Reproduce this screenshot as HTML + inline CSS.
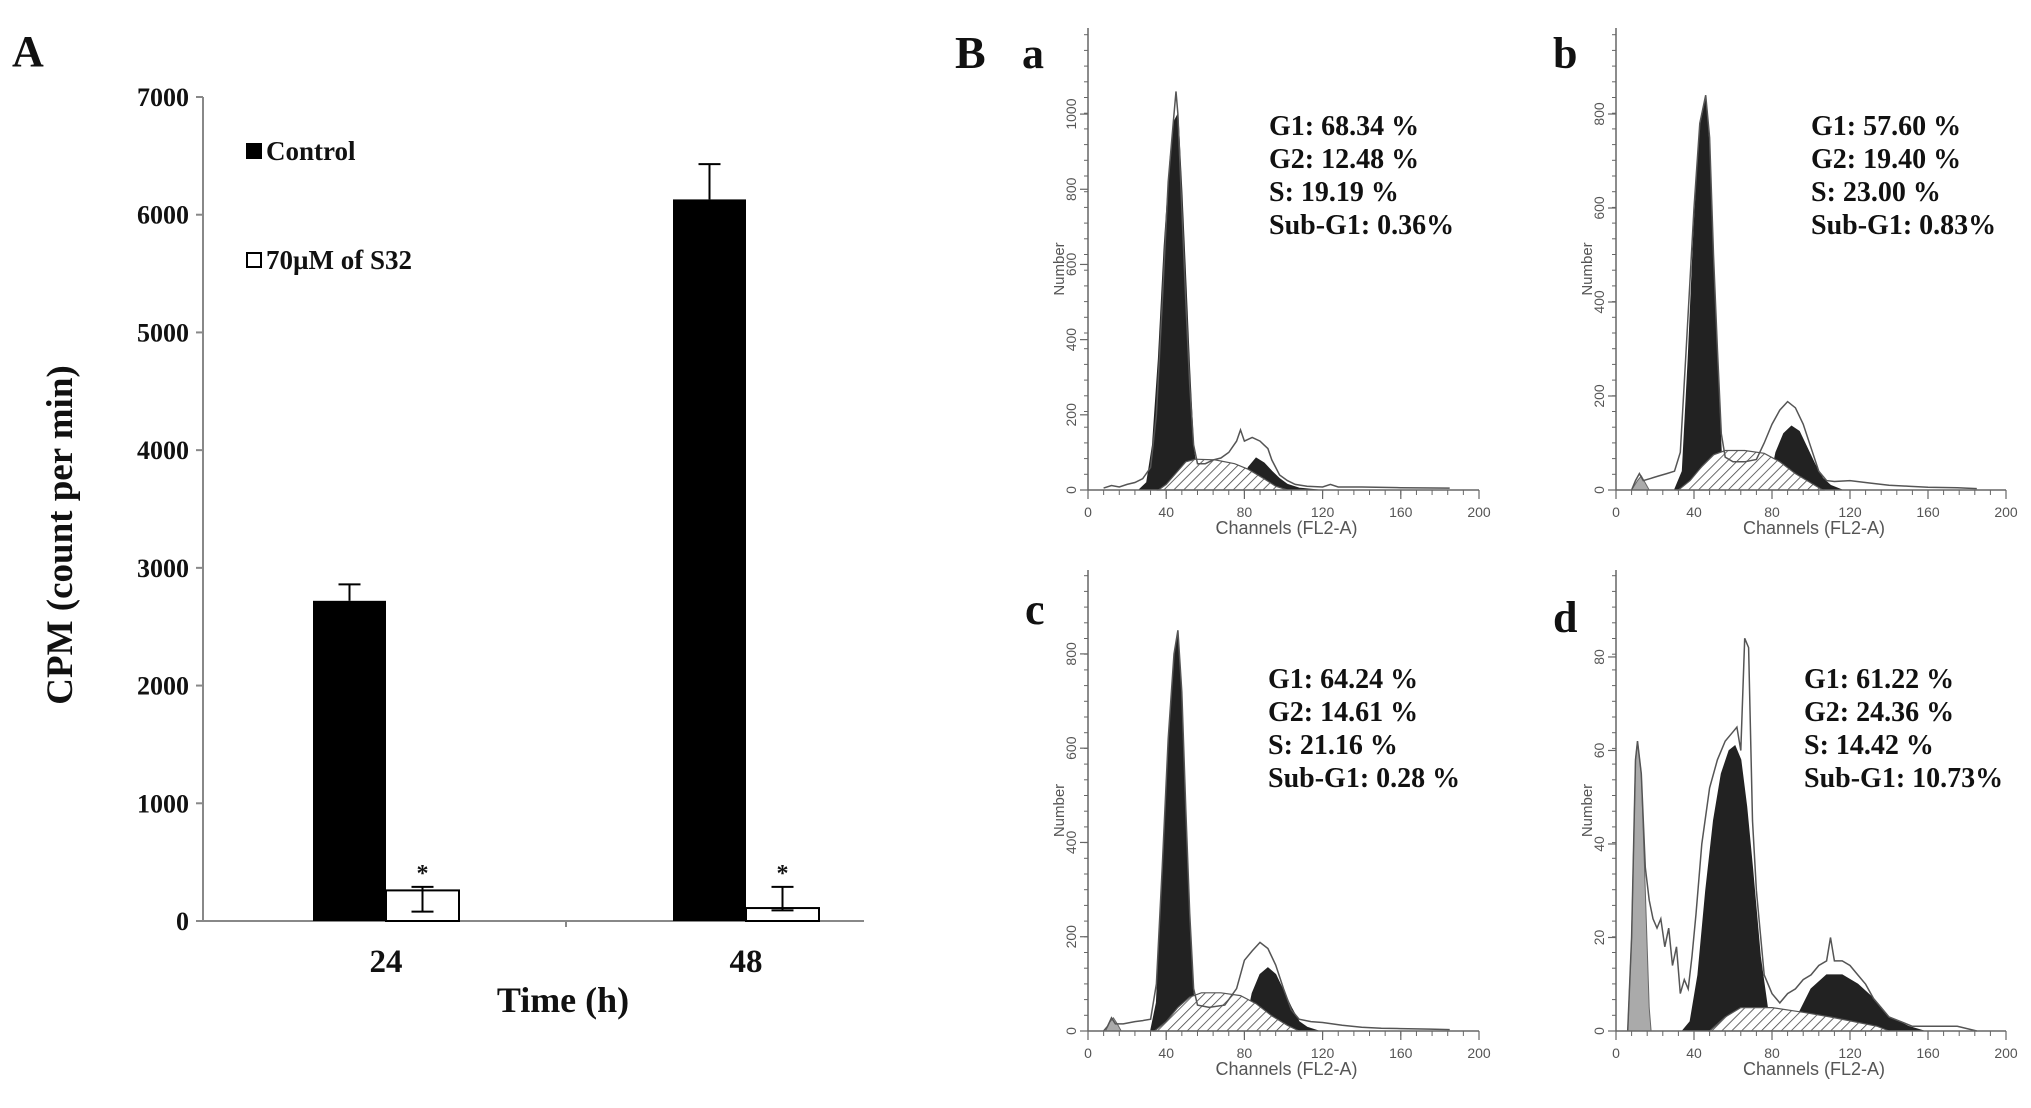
<!DOCTYPE html>
<html><head><meta charset="utf-8"><style>
html,body{margin:0;padding:0;background:#fff;}
svg{display:block;}
.serif{font-family:"Liberation Serif",serif;font-weight:bold;fill:#111;}
.sans{font-family:"Liberation Sans",sans-serif;fill:#555;}
</style></head><body>
<svg id="fig" width="2031" height="1108" viewBox="0 0 2031 1108" xmlns="http://www.w3.org/2000/svg">
<defs>
<pattern id="hatch" width="7" height="7" patternUnits="userSpaceOnUse" patternTransform="rotate(45)">
<rect width="7" height="7" fill="#fff"/><line x1="0" y1="0" x2="0" y2="7" stroke="#444" stroke-width="1.6"/>
</pattern>
</defs>
<g id="panelA"></g>
<g id="panelB"></g>
</svg>
<script>
// ---------- Panel A data ----------
const categories = ["24", "48"];
const controlValues = [2720, 6130];
const controlErrUp = [140, 300];
const treatedValues = [260, 110];
const treatedErrUp = [30, 180];
const treatedErrDown = [180, 20];
const yTicksA = [0, 1000, 2000, 3000, 4000, 5000, 6000, 7000];

// ---------- Panel B data (channel, count) ----------
const aTotal = [[8,5],[12,12],[16,8],[20,15],[24,20],[28,30],[32,60],[35,200],[38,500],[41,820],[44,1000],[45,1060],[46,1000],[48,750],[50,500],[52,280],[54,120],[56,70],[60,70],[64,80],[68,85],[72,100],[76,130],[78,160],[80,130],[84,140],[88,130],[90,120],[92,110],[94,80],[98,40],[102,25],[106,15],[112,10],[120,8],[124,15],[128,8],[140,8],[160,6],[185,5]];
const aG1 = [[26,0],[30,20],[33,120],[36,350],[39,650],[42,880],[44,980],[46,1000],[48,800],[50,560],[52,320],[54,110],[56,30],[58,0]];
const aS = [[36,0],[40,15],[45,45],[50,75],[55,82],[65,80],[75,70],[82,55],[90,30],[96,10],[102,0]];
const aG2 = [[78,0],[82,60],[86,85],[90,72],[94,50],[98,30],[102,15],[108,5],[118,0]];
const aSub = [];

const bTotal = [[8,0],[10,20],[12,35],[14,20],[18,25],[22,30],[26,35],[30,40],[33,80],[36,300],[40,600],[43,780],[46,840],[48,750],[50,500],[52,300],[54,120],[56,70],[60,60],[66,60],[72,65],[76,100],[80,140],[84,170],[88,188],[92,175],[96,140],[100,90],[104,40],[108,20],[112,18],[120,20],[130,15],[140,10],[150,8],[160,6],[175,5],[185,3]];
const bG1 = [[30,0],[34,40],[37,280],[40,560],[43,770],[46,830],[48,720],[50,480],[52,260],[54,80],[56,20],[58,0]];
const bS = [[32,0],[38,20],[44,50],[50,75],[56,84],[66,84],[76,78],[84,60],[92,35],[100,15],[106,0]];
const bG2 = [[78,0],[82,80],[86,120],[90,136],[94,125],[98,90],[102,55],[106,25],[110,10],[116,0]];
const bSub = [[8,0],[11,20],[13,30],[15,15],[17,0]];

const cTotal = [[8,0],[10,10],[12,28],[14,15],[18,15],[24,20],[28,22],[32,25],[35,100],[38,350],[41,620],[44,800],[46,850],[48,720],[50,470],[52,250],[54,90],[56,55],[62,50],[70,55],[76,90],[80,150],[84,170],[88,188],[92,175],[96,140],[100,90],[104,45],[108,25],[114,20],[120,18],[130,12],[140,8],[150,6],[160,5],[175,4],[185,3]];
const cG1 = [[32,0],[35,60],[38,320],[41,600],[44,790],[46,842],[48,700],[50,450],[52,230],[54,70],[56,15],[58,0]];
const cS = [[34,0],[40,20],[46,50],[52,72],[58,81],[68,81],[78,75],[86,58],[94,32],[102,12],[108,0]];
const cG2 = [[80,0],[84,80],[88,120],[92,134],[96,120],[100,85],[104,50],[108,20],[112,8],[118,0]];
const cSub = [[9,0],[11,18],[13,28],[15,15],[17,0]];

const dTotal = [[6,0],[8,20],[10,58],[11,62],[13,55],[15,35],[17,28],[19,24],[21,22],[23,24],[25,18],[27,22],[29,14],[31,18],[33,8],[35,11],[37,9],[39,16],[41,25],[44,40],[48,52],[52,58],[56,62],[60,64],[62,65],[64,60],[66,84],[68,82],[70,45],[72,30],[76,12],[80,8],[84,6],[88,8],[92,9],[96,11],[100,12],[104,14],[108,15],[110,20],[112,15],[116,15],[120,14],[124,12],[128,10],[132,7],[136,5],[140,3],[146,2],[152,1],[160,1],[175,1],[185,0]];
const dG1 = [[34,0],[38,2],[42,12],[46,30],[50,45],[54,55],[58,60],[61,61],[64,58],[67,48],[70,35],[74,16],[78,4],[82,0]];
const dS = [[48,0],[56,3],[64,5],[80,5],[96,4],[110,3],[122,2],[134,1],[140,0]];
const dG2 = [[90,0],[94,4],[100,9],[108,12],[116,12],[124,10],[132,7],[140,3],[150,1],[158,0]];
const dSub = [[6,0],[8,20],[10,58],[11,62],[13,55],[15,30],[17,5],[18,0]];

const xTicksB = [0, 40, 80, 120, 160, 200];
const yTicksAB = [0, 200, 400, 600, 800, 1000];
const yTicksBC = [0, 200, 400, 600, 800];
const yTicksD = [0, 20, 40, 60, 80];
const statsA = ["G1: 68.34 %", "G2: 12.48 %", "S: 19.19 %", "Sub-G1: 0.36%"];
const statsB = ["G1: 57.60 %", "G2: 19.40 %", "S: 23.00 %", "Sub-G1: 0.83%"];
const statsC = ["G1: 64.24 %", "G2: 14.61 %", "S: 21.16 %", "Sub-G1: 0.28 %"];
const statsD = ["G1: 61.22 %", "G2: 24.36 %", "S: 14.42 %", "Sub-G1: 10.73%"];

const NS = "http://www.w3.org/2000/svg";
function mk(parent, tag, attrs, text) {
  const e = document.createElementNS(NS, tag);
  for (const k in attrs) e.setAttribute(k, attrs[k]);
  if (text !== undefined) e.textContent = text;
  parent.appendChild(e);
  return e;
}

// ---------- Panel A ----------
(function () {
  const g = document.getElementById("panelA");
  const X0 = 203, X1 = 864, Y0 = 921, Y7 = 97, yMax = 7000;
  const y = v => Y0 - v * (Y0 - Y7) / yMax;
  const xc = i => 386 + i * 360;
  const bw = 73;
  let t = mk(g, "text", {x: 12, y: 66, class: "serif", "font-size": 44}, "A");
  
  
  let ax = mk(g, "line", {x1: X0, y1: Y7, x2: X0, y2: Y0, stroke: "#888", "stroke-width": 2});
  
  
  let xa = mk(g, "line", {x1: X0, y1: Y0, x2: X1, y2: Y0, stroke: "#888", "stroke-width": 2});
  
  
  mk(g, "line", {x1: 566, y1: Y0, x2: 566, y2: Y0 + 6, stroke: "#888", "stroke-width": 2});
  yTicksA.forEach(v => {
    mk(g, "line", {x1: X0 - 7, y1: y(v), x2: X0, y2: y(v), stroke: "#888", "stroke-width": 2});
    const l = mk(g, "text", {x: X0 - 14, y: y(v) + 9, class: "serif", "font-size": 26, "text-anchor": "end"}, v);
    
    
  });
  categories.forEach((c, i) => {
    const cb = mk(g, "rect", {x: xc(i) - bw, y: y(controlValues[i]), width: bw, height: Y0 - y(controlValues[i]), fill: "#000"});
    
    
    const top = controlValues[i] + controlErrUp[i];
    const cx = xc(i) - bw / 2;
    mk(g, "line", {x1: cx, y1: y(controlValues[i]), x2: cx, y2: y(top), stroke: "#000", "stroke-width": 2});
    mk(g, "line", {x1: cx - 11, y1: y(top), x2: cx + 11, y2: y(top), stroke: "#000", "stroke-width": 2});
    const tb = mk(g, "rect", {x: xc(i), y: y(treatedValues[i]), width: bw, height: Y0 - y(treatedValues[i]), fill: "#fff", stroke: "#000", "stroke-width": 2});
    
    
    const tx = xc(i) + bw / 2;
    const hi = treatedValues[i] + treatedErrUp[i], lo = treatedValues[i] - treatedErrDown[i];
    mk(g, "line", {x1: tx, y1: y(lo), x2: tx, y2: y(hi), stroke: "#000", "stroke-width": 2});
    mk(g, "line", {x1: tx - 11, y1: y(hi), x2: tx + 11, y2: y(hi), stroke: "#000", "stroke-width": 2});
    mk(g, "line", {x1: tx - 11, y1: y(lo), x2: tx + 11, y2: y(lo), stroke: "#000", "stroke-width": 2});
    const s = mk(g, "text", {x: tx, y: y(hi) - 6, class: "serif", "font-size": 24, "text-anchor": "middle", fill: "#333"}, "*");
    
    
    const xl = mk(g, "text", {x: xc(i), y: 972, class: "serif", "font-size": 33, "text-anchor": "middle"}, c);
    
    
  });
  const xt = mk(g, "text", {x: 563, y: 1012, class: "serif", "font-size": 36, "text-anchor": "middle"}, "Time (h)");
  
  
  const yt = mk(g, "text", {x: 0, y: 0, class: "serif", "font-size": 37, "text-anchor": "middle", transform: "translate(72,535) rotate(-90)"}, "CPM (count per min)");
  
  
  const l1 = mk(g, "g", {});
  
  
  mk(l1, "rect", {x: 246, y: 143, width: 16, height: 16, fill: "#000"});
  mk(l1, "text", {x: 266, y: 160, class: "serif", "font-size": 27}, "Control");
  const l2 = mk(g, "g", {});
  
  
  mk(l2, "rect", {x: 247, y: 253, width: 14, height: 14, fill: "#fff", stroke: "#000", "stroke-width": 2});
  mk(l2, "text", {x: 266, y: 269, class: "serif", "font-size": 27}, "70µM of S32");
})();

// ---------- Panel B ----------
(function () {
  const g = document.getElementById("panelB");
  const B = mk(g, "text", {x: 955, y: 68, class: "serif", "font-size": 46}, "B");
  
  
  const panels = [
    {id: "a", x0: 1088, x1: 1479, y0: 490, top: 28, yMax: 1229, total: aTotal, g1: aG1, s: aS, g2: aG2, sub: aSub, yt: yTicksAB, stats: statsA, sx: 1269, sy: 135, lx: 1022, ly: 68},
    {id: "b", x0: 1616, x1: 2006, y0: 490, top: 28, yMax: 983, total: bTotal, g1: bG1, s: bS, g2: bG2, sub: bSub, yt: yTicksBC, stats: statsB, sx: 1811, sy: 135, lx: 1553, ly: 68},
    {id: "c", x0: 1088, x1: 1479, y0: 1031, top: 570, yMax: 978, total: cTotal, g1: cG1, s: cS, g2: cG2, sub: cSub, yt: yTicksBC, stats: statsC, sx: 1268, sy: 688, lx: 1025, ly: 624},
    {id: "d", x0: 1616, x1: 2006, y0: 1031, top: 570, yMax: 98.6, total: dTotal, g1: dG1, s: dS, g2: dG2, sub: dSub, yt: yTicksD, stats: statsD, sx: 1804, sy: 688, lx: 1553, ly: 632}
  ];
  panels.forEach(p => {
    const pg = mk(g, "g", {});
    
    
    const X = c => p.x0 + c * (p.x1 - p.x0) / 200;
    const Y = v => p.y0 - v * (p.y0 - p.top) / p.yMax;
    const poly = arr => arr.map(d => X(d[0]).toFixed(1) + "," + Y(d[1]).toFixed(1)).join(" ");
    const lt = mk(pg, "text", {x: p.lx, y: p.ly, class: "serif", "font-size": 44}, p.id);
    
    
    if (p.sub.length) {
      const sp = mk(pg, "polygon", {points: poly(p.sub), fill: "#aaa", stroke: "#666", "stroke-width": 1});
      
      
    }
    const g1 = mk(pg, "polygon", {points: poly(p.g1), fill: "#222", stroke: "#222", "stroke-width": 1});
    
    
    const g2 = mk(pg, "polygon", {points: poly(p.g2), fill: "#222", stroke: "#222", "stroke-width": 1});
    
    
    const s = mk(pg, "polygon", {points: poly(p.s), fill: "url(#hatch)", stroke: "#555", "stroke-width": 1.2});
    
    
    const tot = mk(pg, "polyline", {points: poly(p.total), fill: "none", stroke: "#555", "stroke-width": 1.5});
    
    
    mk(pg, "line", {x1: p.x0, y1: p.top, x2: p.x0, y2: p.y0, stroke: "#666", "stroke-width": 1.5});
    mk(pg, "line", {x1: p.x0, y1: p.y0, x2: p.x1, y2: p.y0, stroke: "#666", "stroke-width": 1.5});
    for (let c = 0; c <= 200; c += 8) {
      mk(pg, "line", {x1: X(c), y1: p.y0, x2: X(c), y2: p.y0 + 5, stroke: "#666", "stroke-width": 1});
    }
    for (let py = p.y0; py >= p.top; py -= 15.7) {
      mk(pg, "line", {x1: p.x0 - 4, y1: py, x2: p.x0, y2: py, stroke: "#666", "stroke-width": 1});
    }
    xTicksB.forEach(c => {
      mk(pg, "line", {x1: X(c), y1: p.y0, x2: X(c), y2: p.y0 + 9, stroke: "#666", "stroke-width": 1.2});
      const l = mk(pg, "text", {x: X(c), y: p.y0 + 27, class: "sans", "font-size": 14, "text-anchor": "middle"}, c);
      
      
    });
    p.yt.forEach(v => {
      mk(pg, "line", {x1: p.x0 - 8, y1: Y(v), x2: p.x0, y2: Y(v), stroke: "#666", "stroke-width": 1.2});
      const l = mk(pg, "text", {x: 0, y: 0, class: "sans", "font-size": 14, "text-anchor": "middle", transform: `translate(${p.x0 - 12},${Y(v)}) rotate(-90)`}, v);
      
      
    });
    const xl = mk(pg, "text", {x: (p.x0 + p.x1) / 2 + 3, y: p.y0 + 44, class: "sans", "font-size": 18, "text-anchor": "middle"}, "Channels (FL2-A)");
    
    
    const yl = mk(pg, "text", {x: 0, y: 0, class: "sans", "font-size": 15, "text-anchor": "middle", transform: `translate(${p.x0 - 24},${(p.y0 + p.top) / 2 + 10}) rotate(-90)`}, "Number");
    
    
    p.stats.forEach((st, i) => {
      const tx = mk(pg, "text", {x: p.sx, y: p.sy + i * 33, class: "serif", "font-size": 28}, st);
      
      
    });
  });
})();
</script>
</body></html>
